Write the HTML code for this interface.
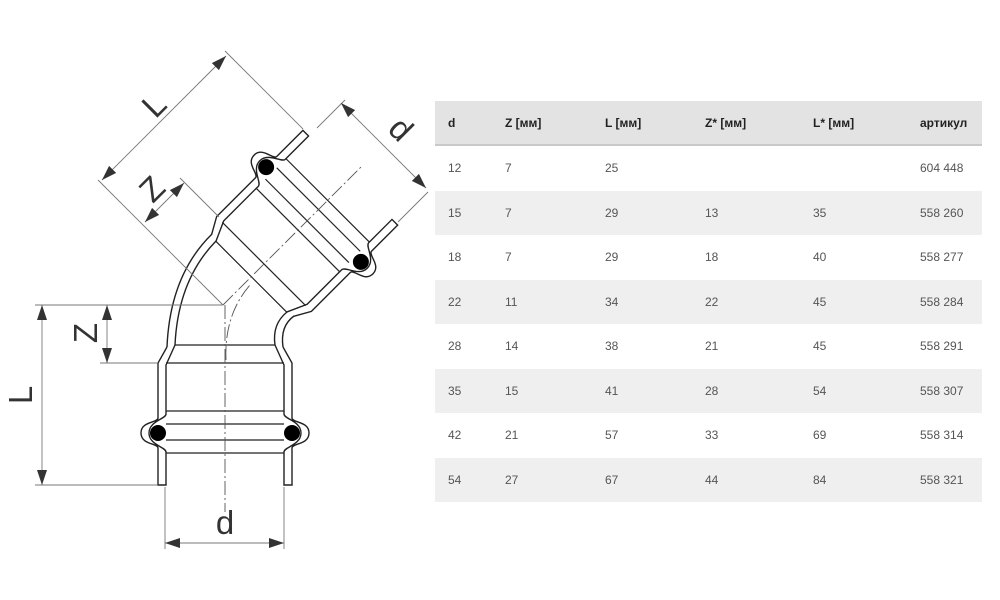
<!DOCTYPE html>
<html><head><meta charset="utf-8"><style>
body{margin:0;background:#fff;width:1000px;height:600px;overflow:hidden;position:relative;font-family:"Liberation Sans",Arial,sans-serif}
svg{position:absolute;left:0;top:0}
.tbl{position:absolute;left:435px;top:101px;width:547px}
.r{position:relative;height:44.5px;font-size:12px;color:#555}
.r span{position:absolute;top:15px}
.h{background:#e3e3e3;font-weight:bold;color:#222;border-bottom:2px solid #c9c9c9;height:43px}
.g{background:#efefef}
</style></head><body>
<svg width="1000" height="600" viewBox="0 0 1000 600">
<defs>
<g id="half" fill="none" stroke="#222" stroke-width="1.4">
  <path d="M58,42 L67,58 L67,113 C67,118 84,116 84,128 C84,140 67,138 67,143 L67,180 L59,180 L59,147 C59,142 76,140 76,128 C76,116 59,114 59,109 L59,60 L50,40"/>
</g>
<g id="sock">
  <use href="#half"/>
  <use href="#half" transform="scale(-1,1)"/>
  <g stroke="#222" stroke-width="1.2">
    <line x1="-50" y1="40" x2="50" y2="40"/>
    <line x1="-59" y1="58" x2="59" y2="58"/>
    <line x1="-59" y1="106" x2="59" y2="106"/>
    <line x1="-59" y1="119" x2="59" y2="119"/>
    <line x1="-59" y1="135" x2="59" y2="135"/>
    <line x1="-59" y1="148" x2="59" y2="148"/>
  </g>
  <circle cx="-67" cy="128" r="8" fill="#000"/>
  <circle cx="67" cy="128" r="8" fill="#000"/>
</g>
<marker id="ar" viewBox="0 0 15 10" refX="15" refY="5" markerWidth="15" markerHeight="10" markerUnits="userSpaceOnUse" orient="auto-start-reverse"><path d="M0,0 L15,5 L0,10z" fill="#333"/></marker>
</defs>

<use href="#sock" transform="translate(225,305)"/>
<use href="#sock" transform="translate(223,305) rotate(-135)"/>

<g fill="none" stroke="#222" stroke-width="1.4">
  <path d="M167,347 Q170,275 212,234"/>
  <path d="M175,345 Q178,280 216,241"/>
  <path d="M283,347 Q280,326 294,316"/>
  <path d="M275,345 Q272,324 287,312"/>
</g>

<g fill="none" stroke="#555" stroke-width="0.9" stroke-dasharray="14,3,2,3">
  <line x1="225" y1="305" x2="225" y2="512"/>
  <line x1="223" y1="305" x2="362" y2="166"/>
  <path d="M226,360 Q224,315 250,285"/>
</g>

<g stroke="#777" stroke-width="0.9" fill="none">
  <line x1="35" y1="305" x2="223" y2="305"/>
  <line x1="35" y1="485" x2="157" y2="485"/>
  <line x1="100" y1="363" x2="157" y2="363"/>
  <line x1="165" y1="487" x2="165" y2="549"/>
  <line x1="284" y1="487" x2="284" y2="549"/>
  <line x1="223" y1="305" x2="98" y2="180"/>
  <line x1="303" y1="129" x2="225" y2="51"/>
  <line x1="219" y1="217" x2="180" y2="178"/>
  <line x1="317" y1="128" x2="345" y2="100"/>
  <line x1="398" y1="222" x2="428" y2="192"/>
</g>
<g stroke="#777" stroke-width="0.9" marker-start="url(#ar)" marker-end="url(#ar)">
  <line x1="42" y1="305" x2="42" y2="485"/>
  <line x1="107" y1="305" x2="107" y2="363"/>
  <line x1="165" y1="543" x2="284" y2="543"/>
  <line x1="102" y1="180" x2="226" y2="56"/>
  <line x1="145" y1="222" x2="184" y2="183"/>
  <line x1="341" y1="103" x2="426" y2="188"/>
</g>

<g font-family="Liberation Sans, Arial, sans-serif" font-size="33" fill="#333" text-anchor="middle">
  <text x="0" y="0" transform="translate(32,395) rotate(-90)">L</text>
  <text x="0" y="0" transform="translate(97,333) rotate(-90)">Z</text>
  <text x="225" y="534">d</text>
  <text x="0" y="0" transform="translate(162,113) rotate(-45)">L</text>
  <text x="0" y="0" transform="translate(160,197) rotate(-45)">Z</text>
  <text x="0" y="0" transform="translate(393,137) rotate(45)">d</text>
</g>
</svg>

<div class="tbl">
  <div class="r h"><span style="left:13px">d</span><span style="left:70px">Z [мм]</span><span style="left:170px">L [мм]</span><span style="left:270px">Z* [мм]</span><span style="left:378px">L* [мм]</span><span style="left:485px">артикул</span></div>
  <div class="r"><span style="left:13px">12</span><span style="left:70px">7</span><span style="left:170px">25</span><span style="left:485px">604 448</span></div>
  <div class="r g"><span style="left:13px">15</span><span style="left:70px">7</span><span style="left:170px">29</span><span style="left:270px">13</span><span style="left:378px">35</span><span style="left:485px">558 260</span></div>
  <div class="r"><span style="left:13px">18</span><span style="left:70px">7</span><span style="left:170px">29</span><span style="left:270px">18</span><span style="left:378px">40</span><span style="left:485px">558 277</span></div>
  <div class="r g"><span style="left:13px">22</span><span style="left:70px">11</span><span style="left:170px">34</span><span style="left:270px">22</span><span style="left:378px">45</span><span style="left:485px">558 284</span></div>
  <div class="r"><span style="left:13px">28</span><span style="left:70px">14</span><span style="left:170px">38</span><span style="left:270px">21</span><span style="left:378px">45</span><span style="left:485px">558 291</span></div>
  <div class="r g"><span style="left:13px">35</span><span style="left:70px">15</span><span style="left:170px">41</span><span style="left:270px">28</span><span style="left:378px">54</span><span style="left:485px">558 307</span></div>
  <div class="r"><span style="left:13px">42</span><span style="left:70px">21</span><span style="left:170px">57</span><span style="left:270px">33</span><span style="left:378px">69</span><span style="left:485px">558 314</span></div>
  <div class="r g"><span style="left:13px">54</span><span style="left:70px">27</span><span style="left:170px">67</span><span style="left:270px">44</span><span style="left:378px">84</span><span style="left:485px">558 321</span></div>
</div>
</body></html>
